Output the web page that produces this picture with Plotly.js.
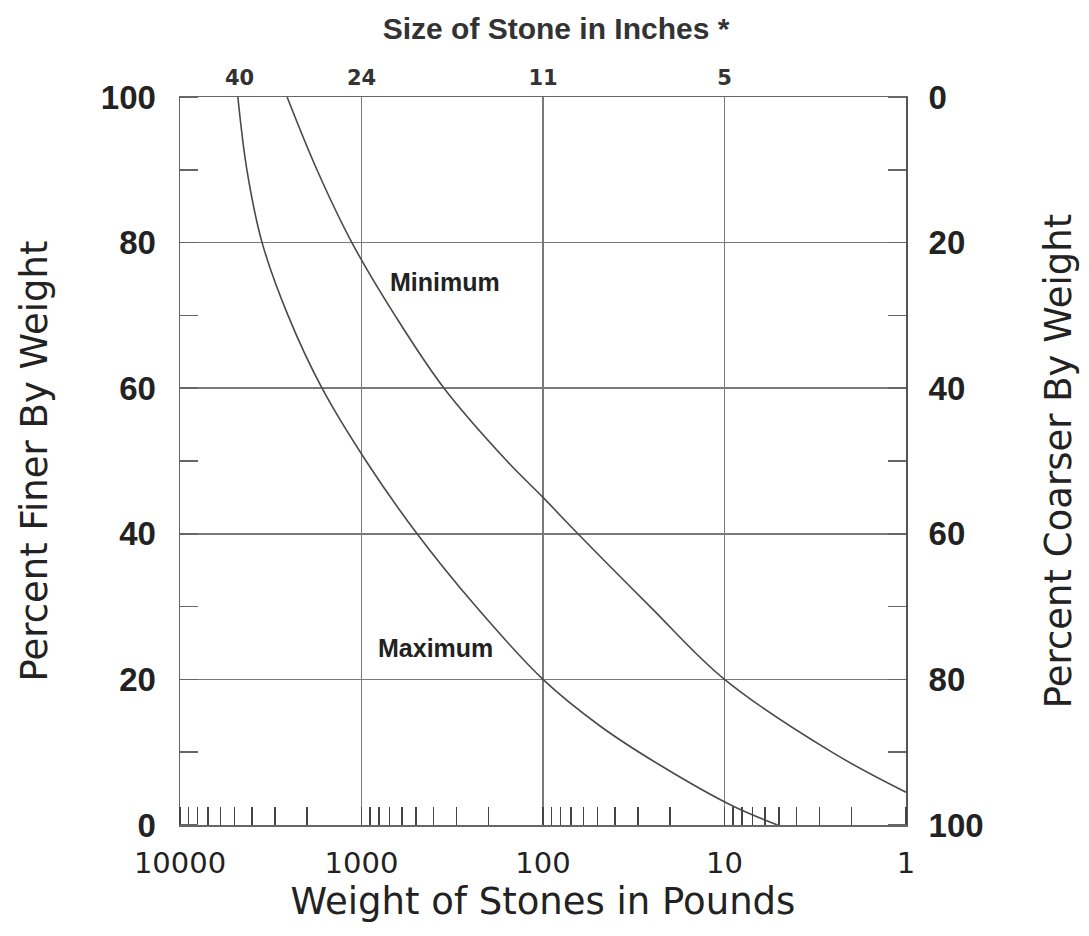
<!DOCTYPE html>
<html>
<head>
<meta charset="utf-8">
<script src="https://cdn.plot.ly/plotly-3.0.1.min.js"></script>
<style>html,body{margin:0;padding:0;background:#fff;}#chart{width:1089px;height:936px;}</style>
</head>
<body>
<div id="chart"></div>
<script>
// Weight of stones (lb) and percent finer by weight for the two limit curves
const maxWeight  = [4800, 4280, 3530, 2540, 1650, 944, 494, 234, 100, 48.5, 22.6, 9, 5.1];
const maxPercent = [100, 90, 80, 70, 60, 50, 40, 30, 20, 13.6, 8.2, 2.6, 0];
const minWeight  = [2570, 1760, 1130, 654, 351, 158, 100, 64.2, 25.7, 10, 2.52, 1];
const minPercent = [100, 90, 80, 70, 60, 50, 45, 40, 30, 20, 9.9, 4.5];

// bottom axis ticks
const weightTicks = [10000, 1000, 100, 10, 1];
const weightLabels = ["10000", "1000", "100", "10", "1"];
// top axis: stone size (inches) at corresponding weights
const sizeWeights = [4700, 1000, 100, 10];
const sizeLabels = ["40", "24", "11", "5"];
// percent ticks
const percentTicks = [0, 20, 40, 60, 80, 100];
const percentLabels = ["0", "20", "40", "60", "80", "100"];

const lineCol = '#4a4a4a';
const gridCol = '#7a7a7a';
const frameCol = '#666';

const traces = [
  {x: minWeight, y: minPercent, mode: 'lines', line: {shape: 'spline', color: lineCol, width: 1.6}, name: 'Minimum', showlegend: false, hoverinfo: 'x+y'},
  {x: maxWeight, y: maxPercent, mode: 'lines', line: {shape: 'spline', color: lineCol, width: 1.6}, name: 'Maximum', showlegend: false, hoverinfo: 'x+y'}
];

const layout = {
  width: 1089, height: 936,
  margin: {l: 180, r: 183, t: 97, b: 111},
  paper_bgcolor: '#fff', plot_bgcolor: '#fff',
  showlegend: false,
  title: {
    text: 'Size of Stone in Inches *',
    font: {family: 'Liberation Sans, Arial, sans-serif', size: 30, weight: 'bold', color: '#333'},
    xref: 'paper', x: 0.518, xanchor: 'center',
    yref: 'container', y: 1 - 28/936, yanchor: 'middle'
  },
  xaxis: {
    type: 'log', range: [4, 0],
    tickmode: 'array', tickvals: weightTicks, ticktext: weightLabels,
    ticks: '', ticklabelstandoff: 12,
    tickfont: {family: 'DejaVu Sans, sans-serif', size: 29, color: '#222'},
    showgrid: true, gridcolor: gridCol, gridwidth: 1.5,
    showline: true, linecolor: frameCol, linewidth: 1.5,
    zeroline: false,
    minor: {ticks: 'inside', ticklen: 18, tickwidth: 1.5, tickcolor: '#444', dtick: 'D1', showgrid: false},
    title: {text: 'Weight of Stones in Pounds', font: {family: 'DejaVu Sans, sans-serif', size: 37, color: '#222'}, standoff: 0}
  },
  xaxis2: {
    type: 'log', range: [4, 0], overlaying: 'x', side: 'top', anchor: 'y',
    tickmode: 'array', tickvals: sizeWeights, ticktext: sizeLabels,
    ticks: '', ticklabelstandoff: 2,
    tickfont: {family: 'DejaVu Sans, sans-serif', size: 21, weight: 'bold', color: '#333'},
    showgrid: false, showline: true, linecolor: frameCol, linewidth: 1.5, zeroline: false
  },
  yaxis: {
    range: [0, 100],
    tickmode: 'array', tickvals: percentTicks, ticktext: percentLabels,
    ticks: '', ticklabelstandoff: 16,
    tickfont: {family: 'Liberation Sans, Arial, sans-serif', size: 33, weight: 'bold', color: '#222'},
    showgrid: true, gridcolor: gridCol, gridwidth: 1.5,
    showline: true, linecolor: frameCol, linewidth: 1.5, zeroline: false,
    minor: {ticks: 'inside', ticklen: 18, tickwidth: 1.5, tickcolor: '#666', dtick: 10, tick0: 0, showgrid: false},
    title: {text: 'Percent Finer By Weight', font: {family: 'DejaVu Sans, sans-serif', size: 37, color: '#222'}, standoff: 42}
  },
  yaxis2: {
    range: [100, 0], overlaying: 'y', side: 'right', anchor: 'x',
    tickmode: 'array', tickvals: percentTicks, ticktext: percentLabels,
    ticks: '', ticklabelstandoff: 14,
    tickfont: {family: 'Liberation Sans, Arial, sans-serif', size: 33, weight: 'bold', color: '#222'},
    showgrid: false, showline: true, linecolor: '#555', linewidth: 2, zeroline: false,
    minor: {ticks: 'inside', ticklen: 18, tickwidth: 1.5, tickcolor: '#666', dtick: 10, tick0: 0, showgrid: false},
    title: {text: 'Percent Coarser By Weight', font: {family: 'DejaVu Sans, sans-serif', size: 37, color: '#222'}, standoff: 62}
  },
  annotations: [
    {text: 'Minimum', x: 2.54, y: 74.6, xref: 'x', yref: 'y', showarrow: false,
     font: {family: 'Liberation Sans, Arial, sans-serif', size: 25, weight: 'bold', color: '#222'}},
    {text: 'Maximum', x: 2.59, y: 24.3, xref: 'x', yref: 'y', showarrow: false,
     font: {family: 'Liberation Sans, Arial, sans-serif', size: 25, weight: 'bold', color: '#222'}}
  ]
};

// invisible trace to bind the secondary axes so they are drawn
traces.push({x: sizeWeights, y: [0, 0, 0, 0], xaxis: 'x2', yaxis: 'y2', mode: 'none', hoverinfo: 'skip', showlegend: false});

Plotly.newPlot('chart', traces, layout, {staticPlot: true});
</script>
</body>
</html>
